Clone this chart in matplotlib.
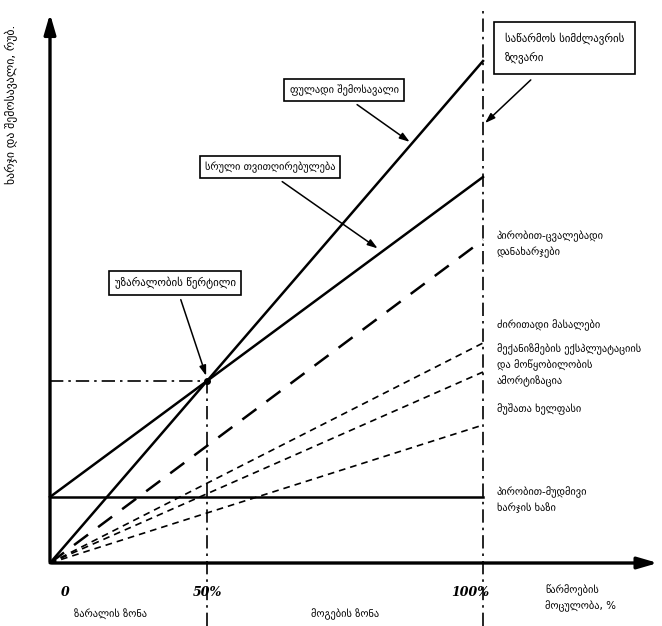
import numpy as np
import matplotlib
matplotlib.use("Agg")
import matplotlib.pyplot as plt

plt.rcParams['font.family'] = ['DejaVu Sans']

# volume, % of capacity
volume = [0, 100]
# costs and revenue (arbitrary units) at 0% and 100%
fixed_cost = [13.2, 13.2]
total_cost = [13.2, 77.2]
revenue = [0, 100.4]
variable_cost = [0, 64.6]
materials = [0, 44.0]
machines = [0, 38.2]
wages = [0, 27.6]

tick_labels = ["0", "50%", "100%"]

# break-even point
k_rev = (revenue[1] - revenue[0]) / 100
k_tc = (total_cost[1] - total_cost[0]) / 100
be_x = (total_cost[0] - revenue[0]) / (k_rev - k_tc)
be_y = revenue[0] + k_rev * be_x

fig = plt.figure(figsize=(6.62, 6.26), dpi=100)
ax = fig.add_axes([0, 0, 1, 1])
ax.set_xlim(-11.547, 141.34)
ax.set_ylim(-12.6, 112.6)
ax.axis('off')

# axes with arrows
ax.annotate('', xy=(141.0, 0), xytext=(-0.3, 0),
            arrowprops=dict(arrowstyle='-|>,head_length=1.2,head_width=0.35', lw=2.4, color='black'))
ax.annotate('', xy=(0, 110.4), xytext=(0, -0.3),
            arrowprops=dict(arrowstyle='-|>,head_length=1.2,head_width=0.35', lw=2.4, color='black'))

# main lines
ax.plot(volume, fixed_cost, color='black', lw=1.8)
ax.plot(volume, total_cost, color='black', lw=1.8)
ax.plot(volume, revenue, color='black', lw=1.8)
ax.plot(volume, variable_cost, color='black', lw=1.8, dashes=(7, 5))
for comp in (materials, machines, wages):
    ax.plot(volume, comp, color='black', lw=1.2, dashes=(4, 3))

# capacity limit and break-even guides
ax.plot([100, 100], [-12.6, 110.6], color='black', lw=1.2, dashes=(8, 3, 1.5, 3))
ax.plot([be_x, be_x], [-12.6, be_y], color='black', lw=1.2, dashes=(8, 3, 1.5, 3))
ax.plot([0, be_x], [be_y, be_y], color='black', lw=1.2, dashes=(8, 3, 1.5, 3))
ax.plot(be_x, be_y, 'o', color='black', ms=4)

box = dict(boxstyle='square,pad=0.5', fc='white', ec='black', lw=1.2)
arrow = dict(arrowstyle='-|>,head_length=0.6,head_width=0.2', lw=1.1, color='black')

ax.text(105.1, 103.0, "საწარმოს სიმძლავრის\nზღვარი", fontsize=7.8, ha='left', va='center',
        bbox=dict(boxstyle='square,pad=1.0', fc='white', ec='black', lw=1.2), linespacing=1.6)
ax.annotate('', xy=(100, 87.6), xytext=(111.5, 97.0), arrowprops=arrow)

ax.text(67.9, 94.6, "ფულადი შემოსავალი", fontsize=7.5, ha='center', va='center', bbox=box)
ax.annotate('', xy=(83.6, 83.9), xytext=(70.4, 92.0), arrowprops=arrow)

ax.text(50.8, 79.2, "სრული თვითღირებულება", fontsize=7.5, ha='center', va='center', bbox=box)
ax.annotate('', xy=(76.2, 62.6), xytext=(53.1, 76.6), arrowprops=arrow)

ax.text(28.9, 56.0, "უზარალობის წერტილი", fontsize=7.8, ha='center', va='center', bbox=box)
ax.annotate('', xy=(be_x, be_y + 0.5), xytext=(30.0, 53.2), arrowprops=arrow)

# right side labels
right_labels = [
    ("პირობით-ცვალებადი\nდანახარჯები", 63.8),
    ("ძირითადი მასალები", 47.6),
    ("მექანიზმების ექსპლუატაციის\nდა მოწყობილობის\nამორტიზაცია", 39.6),
    ("მუშათა ხელფასი", 30.8),
    ("პირობით-მუდმივი\nხარჯის ხაზი", 12.6),
]
for txt, yy in right_labels:
    ax.text(103.2, yy, txt, fontsize=7.5, ha='left', va='center', linespacing=1.5)

# tick labels
for xx, lab in zip([3.5, be_x, 97.0], tick_labels):
    ax.text(xx, -5.8, lab, fontsize=9, ha='center', va='center',
            family='DejaVu Serif', fontweight='bold', style='italic')

ax.text(114.3, -7.0, "წარმოების\nმოცულობა, %", fontsize=7.5, ha='left', va='center', linespacing=1.5)
ax.text(13.9, -10.2, "ზარალის ზონა", fontsize=7.5, ha='center', va='center')
ax.text(68.1, -10.2, "მოგების ზონა", fontsize=7.5, ha='center', va='center')

ax.text(-8.8, 107.6, "ხარჯი და შემოსავალი, რუბ.", fontsize=8.5, rotation=90,
        ha='center', va='top')

fig.savefig("out.png", dpi=100)
